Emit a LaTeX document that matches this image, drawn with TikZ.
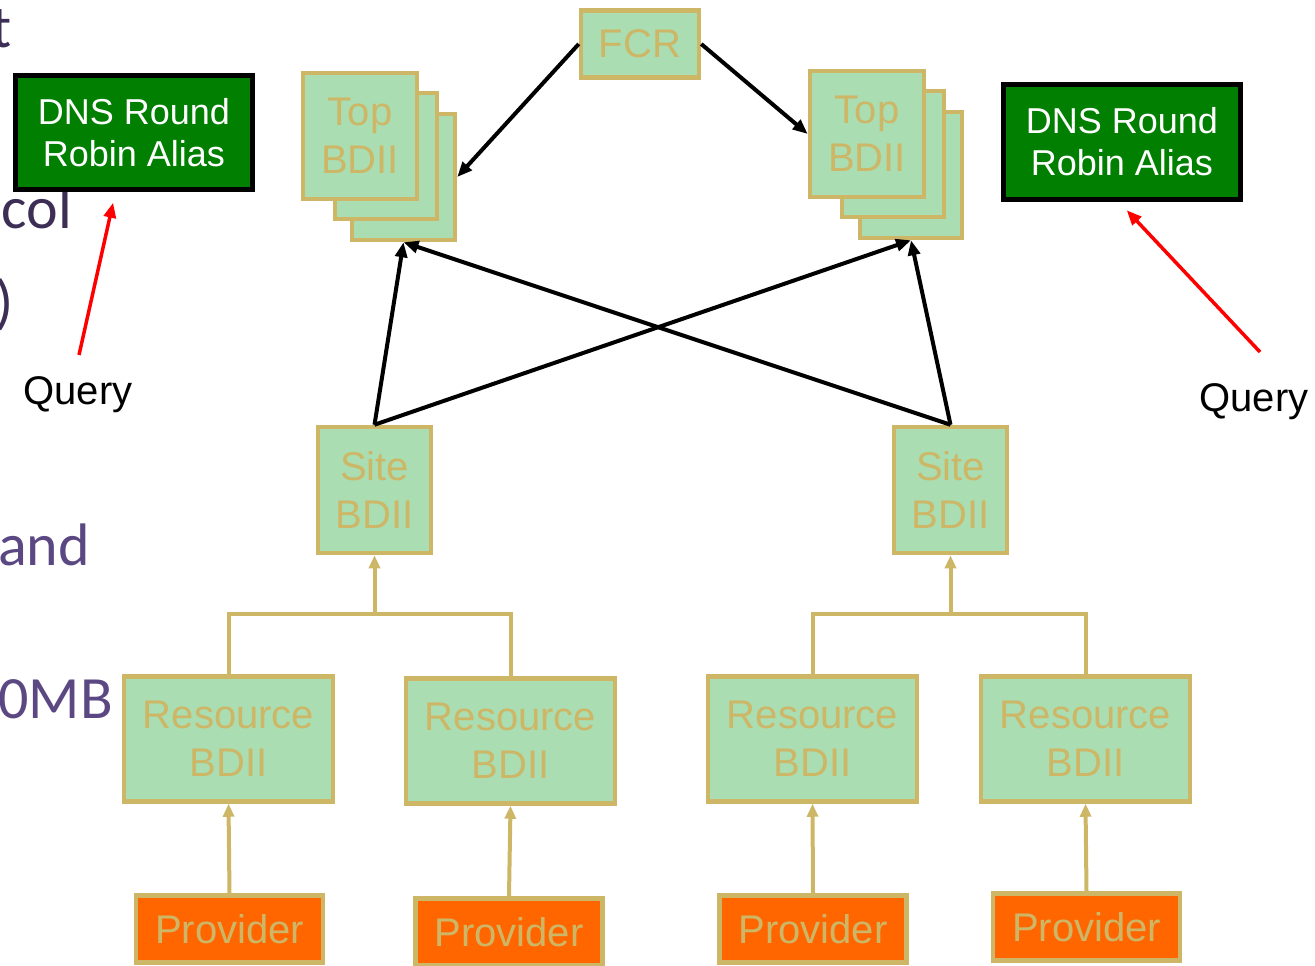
\documentclass[tikz,border=0pt]{standalone}
\usepackage{fontspec}
\setmainfont{Liberation Sans}
\newfontfamily\slidefont{Carlito}
\usetikzlibrary{arrows.meta,calc}

\definecolor{boxgreen}{HTML}{AADDB1}
\definecolor{boxtan}{HTML}{CDB767}
\definecolor{provorange}{HTML}{FF6600}
\definecolor{dnsgreen}{HTML}{007F00}
\definecolor{slidepurple}{HTML}{3D2E55}
\definecolor{slidepurplelight}{HTML}{5B4883}

\begin{document}
\begin{tikzpicture}[x=1pt,y=-1pt,
  bdii/.style={draw=boxtan, line width=4.5pt, fill=boxgreen, text=boxtan,
    font=\fontsize{40}{48}\selectfont, align=center, inner sep=0pt},
  provider/.style={bdii, fill=provorange, minimum width=187pt, minimum height=67pt},
  resource/.style={bdii, minimum width=209pt, minimum height=125pt},
  site/.style={bdii, minimum width=113pt, minimum height=126pt},
  topbox/.style={bdii, minimum height=126pt},
  dns/.style={draw=black, line width=5pt, fill=dnsgreen, text=white,
    font=\fontsize{36}{42}\selectfont, align=center, inner sep=0pt,
    minimum width=237pt, minimum height=114pt},
  querytext/.style={font=\fontsize{40}{46}\selectfont, inner sep=0pt},
  slidetext/.style={font=\slidefont\fontsize{60}{72}\selectfont, inner sep=0pt, anchor=base east},
  feed/.style={draw=black, line width=4pt, -{Triangle[length=15pt,width=12pt]}},
  query/.style={draw=red, line width=3.5pt, -{Triangle[length=15pt,width=12pt]}},
  link/.style={draw=boxtan, line width=4pt},
  linkup/.style={link, -{Triangle[length=13pt,width=11pt]}}
]
\useasboundingbox (0,0) rectangle (1315,966);
\begin{scope}
\clip (0,0) rectangle (1315,966);

% fragments of the surrounding slide text
\node[slidetext, text=slidepurple] (fragt) at (12,48) {t};
\node[slidetext, text=slidepurple] (fragcol) at (72,228) {col};
\node[slidetext, text=slidepurple] (fragparen) at (14,322) {)};
\node[slidetext, text=slidepurplelight] (fragand) at (90,565) {and};
\node[slidetext, text=slidepurplelight] (fragmb) at (113,718) {0MB};

% DNS aliases and queries
\node[dns] (dnsl) at (134,132.5) {DNS Round\\Robin Alias};
\node[dns] (dnsr) at (1122,142) {DNS Round\\Robin Alias};
\node[querytext] (ql) at (78,395) {Query};
\node[querytext] (qr) at (1254,402) {Query};
\coordinate (qla) at (79,355);
\coordinate (qra) at (1260,352);
\draw[query, shorten >=11pt] (qla) -- ([xshift=-18.5pt]dnsl.south);
\draw[query, shorten >=12pt] (qra) -- ([xshift=-3.5pt]dnsr.south);

% FCR
\node[bdii, minimum width=118pt, minimum height=67pt] (fcr) at (640,44) {FCR};

% top level BDII stacks
\node[topbox, minimum width=103pt] (tlback) at (403.5,177) {};
\node[topbox, minimum width=102pt] (tlmid) at (386,156) {};
\node[topbox, minimum width=114pt] (tl) at (360,136) {Top\\BDII};
\node[topbox, minimum width=102pt] (trback) at (911,175) {};
\node[topbox, minimum width=102pt] (trmid) at (893,154) {};
\node[topbox, minimum width=114pt] (tr) at (867,134) {Top\\BDII};

% site level
\node[site] (sl) at (374.5,490) {Site\\BDII};
\node[site] (sr) at (950.5,490) {Site\\BDII};

% resource level
\node[resource] (r1) at (228.5,739) {Resource\\BDII};
\node[resource] (r2) at (510.5,741) {Resource\\BDII};
\node[resource] (r3) at (812.5,739) {Resource\\BDII};
\node[resource] (r4) at (1085.5,739) {Resource\\BDII};

% providers
\node[provider] (p1) at (229.5,929) {Provider};
\node[provider] (p2) at (509,932) {Provider};
\node[provider] (p3) at (813,929) {Provider};
\node[provider] (p4) at (1086.5,927) {Provider};

% black connectors
\draw[feed] (fcr.west) -- (tlback.east);
\draw[feed] (fcr.east) -- (tr.west);
\draw[feed] (sl.north) -- (tlback.south);
\draw[feed] (sl.north) -- (trback.south);
\draw[feed] (sr.north) -- (trback.south);
\draw[feed] (sr.north) -- (tlback.south);

% tree connectors
\coordinate (jl) at (374.5,614);
\coordinate (jr) at (950.5,614);
\draw[link] (r1.north) |- (jl) -| (r2.north);
\draw[link] (r3.north) |- (jr) -| (r4.north);
\draw[linkup] (jl) -- (sl.south);
\draw[linkup] (jr) -- (sr.south);
\draw[linkup] (p1.north) -- (r1.south);
\draw[linkup] (p2.north) -- (r2.south);
\draw[linkup] (p3.north) -- (r3.south);
\draw[linkup] (p4.north) -- (r4.south);
\end{scope}
\end{tikzpicture}
\end{document}
